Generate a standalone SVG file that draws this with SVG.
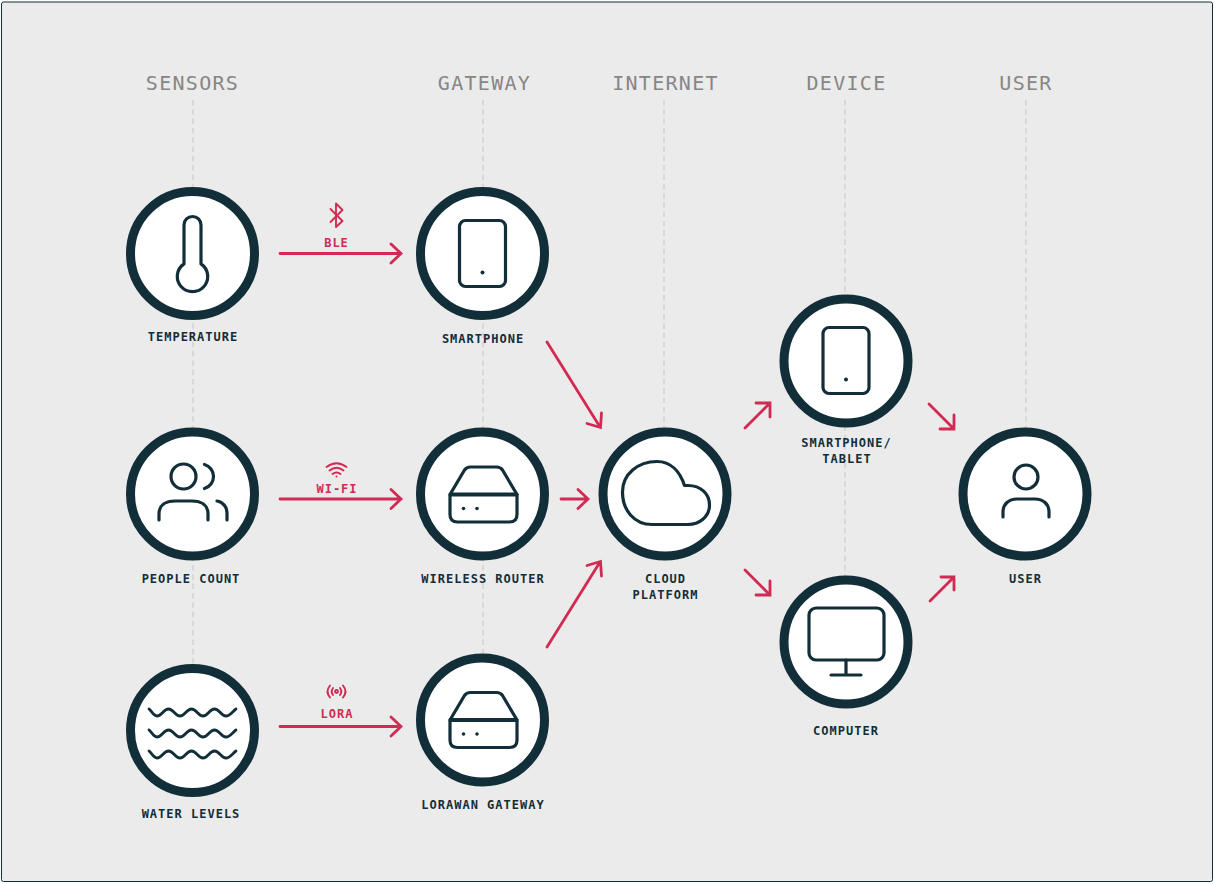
<svg xmlns="http://www.w3.org/2000/svg" width="1214" height="884" viewBox="0 0 1214 884">
<defs>
<style>
.hd{font:400 20px "DejaVu Sans Mono",monospace;letter-spacing:1.3px;fill:#868686;text-anchor:middle}
.lb{font:700 12px "DejaVu Sans Mono",monospace;letter-spacing:1px;fill:#122e38;text-anchor:middle}
.pl{font:700 12px "DejaVu Sans Mono",monospace;letter-spacing:1px;fill:#d22a52;text-anchor:middle}
.ring{fill:#fff;stroke:#122e38;stroke-width:9}
.ic{fill:none;stroke:#122e38;stroke-width:3.200;stroke-linecap:round;stroke-linejoin:round}
.ar{fill:none;stroke:#d22a52;stroke-width:2.800;stroke-linecap:round;stroke-linejoin:miter}
.pi{fill:none;stroke:#d22a52;stroke-width:1.900;stroke-linecap:round;stroke-linejoin:round}
.gd{stroke:#d8d8d8;stroke-width:2;stroke-dasharray:5.500 3.800;fill:none}
</style>
<g id="tablet-icon"><rect x="-23" y="-33" width="46" height="66" rx="6" class="ic"/><circle cx="0" cy="19" r="2" fill="#122e38"/></g>
<g id="box-icon"><path class="ic" d="M-33.500 0L-19 -24.500Q-17 -27.500 -13 -27.500H13Q17 -27.500 19 -24.500L33.500 0V20Q33.500 27.500 26 27.500H-26Q-33.500 27.500 -33.500 20Z"/><path class="ic" style="stroke-width:4" d="M-33 0H33"/><circle cx="-20" cy="14" r="1.800" fill="#122e38"/><circle cx="-6.500" cy="14" r="1.800" fill="#122e38"/></g>
<path id="wave" class="ic" style="stroke-width:2.800" d="M149 709C151 710 153.500 716 157 716C162 716 163.500 709 168.500 709C173.500 709 175 716 180 716C185 716 186.500 709 191.500 709C196.500 709 198 716 203 716C208 716 209.500 709 214.500 709C219.500 709 221 716 226 716C230 716 233 711 236 709"/>
</defs>
<rect width="1214" height="884" fill="#ffffff"/>
<rect x="1.500" y="2" width="1211" height="879.500" rx="2" fill="#ebebeb" stroke="#122e38" stroke-width="1"/>
<g id="guides">
<path class="gd" d="M193 100V665"/><path class="gd" d="M483 100V655"/><path class="gd" d="M664 100V430"/><path class="gd" d="M845 100V578"/><path class="gd" d="M1026 100V430"/>
</g>
<g id="headers">
<text class="hd" x="192.500" y="89.500">SENSORS</text><text class="hd" x="484.500" y="89.500">GATEWAY</text><text class="hd" x="665.500" y="89.500">INTERNET</text><text class="hd" x="846.500" y="89.500">DEVICE</text><text class="hd" x="1026" y="89.500">USER</text>
</g>
<g id="connectors">
<path class="ar" d="M280 253.500H400M391 244L401 253.500L391 263"/>
<path class="ar" d="M280 499H400M391 489.500L401 499L391 508.500"/>
<path class="ar" d="M280 726.500H400M391 717L401 726.500L391 736"/>
<path class="ar" d="M561 499H587M578 489.500L588 499L578 508.500"/>
<path class="ar" d="M547 342L600 427M587 423.500L600.500 427.500L601.500 413"/>
<path class="ar" d="M547 647L600 562M587 565.500L600.500 561.500L601.500 576"/>
<path class="ar" d="M745 428L770 403M756 403H770V417"/>
<path class="ar" d="M745 570L770 595M756 595H770V581"/>
<path class="ar" d="M929 404L954 429M940 429H954V415"/>
<path class="ar" d="M930 601L954 577M941 577H954V590"/>
</g>
<g id="temperature"><circle class="ring" cx="192.500" cy="253.500" r="62"/><path class="ic" d="M184 225A8.500 8.500 0 0 1 201 225V263.900A15.200 15.200 0 1 1 184 263.900Z"/><text class="lb" x="193" y="340.500">TEMPERATURE</text></g>
<g id="smartphone"><circle class="ring" cx="482.500" cy="253.500" r="62"/><use href="#tablet-icon" x="482.500" y="253.500"/><text class="lb" x="483" y="342.500">SMARTPHONE</text></g>
<g id="people-count"><circle class="ring" cx="192.500" cy="494" r="62"/><circle class="ic" cx="183.500" cy="476.500" r="12.500"/><path class="ic" d="M204.500 464.500A12.500 12.500 0 0 1 204.500 488.500M159 520V514C159 505 166 501 175 501H192C201 501 208 505 208 514V520M217 501C223 502 227 507 227 513V520"/><text class="lb" x="191" y="582.500">PEOPLE COUNT</text></g>
<g id="wireless-router"><circle class="ring" cx="482.500" cy="494" r="62"/><use href="#box-icon" x="483.500" y="494.500"/><text class="lb" x="483" y="582.500">WIRELESS ROUTER</text></g>
<g id="water-levels"><circle class="ring" cx="192.500" cy="730.500" r="62"/>
<use href="#wave"/><use href="#wave" y="21"/><use href="#wave" y="42"/><text class="lb" x="191" y="817.500">WATER LEVELS</text></g>
<g id="lorawan-gateway"><circle class="ring" cx="482.500" cy="720" r="62"/><use href="#box-icon" x="483.500" y="720"/><text class="lb" x="483" y="808.500">LORAWAN GATEWAY</text></g>
<g id="cloud-platform"><circle class="ring" cx="665" cy="494" r="62"/><path class="ic" d="M652 524.500C634 524.500 622.500 510 622.500 492C622.500 474 638 461.500 657 461.500C671 461.500 680 472 684.500 485.500H688C701 485.500 709.500 494 709.500 505C709.500 517 699 524.500 688 524.500Z"/><text class="lb" x="665.500" y="582.500">CLOUD</text><text class="lb" x="665.500" y="598.500">PLATFORM</text></g>
<g id="smartphone-tablet"><circle class="ring" cx="846" cy="361" r="62"/><use href="#tablet-icon" x="846" y="360.500"/><text class="lb" x="846.500" y="446.500">SMARTPHONE/</text><text class="lb" x="847" y="462.500">TABLET</text></g>
<g id="computer"><circle class="ring" cx="846" cy="642" r="62"/><rect class="ic" x="809" y="608" width="75" height="52" rx="7"/><path class="ic" d="M846 660V675M831 675H861"/><text class="lb" x="846" y="734.500">COMPUTER</text></g>
<g id="user"><circle class="ring" cx="1025" cy="494" r="62"/><circle class="ic" cx="1026" cy="477" r="12"/><path class="ic" d="M1003 517V512C1003 504 1009 499 1017 499H1035C1043 499 1049 504 1049 512V517"/><text class="lb" x="1025.500" y="582.500">USER</text></g>
<g id="protocols">
<path class="pi" d="M330.500 209L342.500 221L336 227V203.500L342.500 210L330.500 222"/><text class="pl" x="336.500" y="246.500">BLE</text>
<path class="pi" d="M326.500 467Q336.500 459.500 346.500 467M329.500 470.500Q336.500 465 343.500 470.500M332.500 474Q336.500 471 340.500 474"/><circle cx="336.500" cy="476.500" r="1" fill="#d22a52"/><text class="pl" x="337" y="492.500">WI-FI</text>
<path class="pi" d="M330 685.500Q325 691.500 330 697.500M343 685.500Q348 691.500 343 697.500M333 688Q330.500 691.500 333 695M340 688Q342.500 691.500 340 695"/><circle class="pi" cx="336.500" cy="691.500" r="1.500"/><text class="pl" x="337" y="717.500">LORA</text>
</g>
</svg>
